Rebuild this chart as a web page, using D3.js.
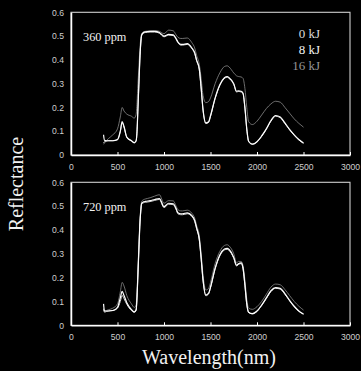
<!DOCTYPE html>
<html>
<head>
<meta charset="utf-8">
<script src="https://cdn.jsdelivr.net/npm/d3@7/dist/d3.min.js"></script>
<style>
  html, body { margin: 0; padding: 0; background: #000; }
  svg { display: block; }
</style>
</head>
<body>
<svg id="chart" width="361" height="371"></svg>
<script>
// Wavelength samples (nm)
const wavelengths = [350,360,380,400,450,500,530,550,570,600,650,680,700,710,720,730,740,750,760,780,800,850,900,950,1000,1050,1100,1130,1150,1180,1200,1250,1300,1330,1350,1380,1400,1420,1450,1480,1500,1550,1600,1650,1680,1700,1750,1780,1800,1830,1850,1870,1890,1910,1950,2000,2050,2100,2150,2200,2250,2300,2350,2400,2450,2500];

// 360 ppm CO2
const ppm360_0kJ = [0.05,0.056,0.058,0.06,0.06,0.064,0.097,0.136,0.117,0.074,0.059,0.051,0.059,0.098,0.197,0.297,0.397,0.467,0.502,0.512,0.515,0.517,0.517,0.512,0.497,0.504,0.502,0.487,0.472,0.462,0.462,0.465,0.447,0.427,0.397,0.357,0.277,0.188,0.132,0.137,0.162,0.237,0.292,0.322,0.327,0.322,0.297,0.265,0.267,0.265,0.257,0.197,0.108,0.056,0.045,0.055,0.078,0.108,0.142,0.163,0.157,0.132,0.106,0.083,0.063,0.049];
const ppm360_8kJ = [0.085,0.062,0.06,0.06,0.06,0.065,0.1,0.14,0.12,0.075,0.06,0.052,0.06,0.1,0.2,0.3,0.4,0.47,0.505,0.515,0.518,0.52,0.52,0.515,0.5,0.507,0.505,0.49,0.475,0.465,0.465,0.468,0.45,0.43,0.4,0.36,0.28,0.19,0.135,0.14,0.165,0.24,0.295,0.325,0.33,0.325,0.3,0.268,0.27,0.268,0.26,0.2,0.11,0.058,0.046,0.056,0.08,0.11,0.145,0.166,0.16,0.135,0.108,0.085,0.065,0.05];
const ppm360_16kJ = [0.045,0.05,0.06,0.068,0.085,0.11,0.16,0.2,0.185,0.172,0.163,0.155,0.17,0.22,0.3,0.37,0.44,0.49,0.51,0.518,0.52,0.522,0.523,0.52,0.51,0.525,0.522,0.505,0.495,0.49,0.49,0.492,0.472,0.45,0.42,0.38,0.32,0.25,0.22,0.225,0.24,0.3,0.345,0.372,0.375,0.37,0.345,0.333,0.33,0.328,0.322,0.28,0.2,0.14,0.128,0.142,0.168,0.195,0.215,0.226,0.222,0.2,0.176,0.152,0.133,0.117];

// 720 ppm CO2
const ppm720_0kJ = [0.07,0.055,0.058,0.06,0.062,0.072,0.1,0.125,0.112,0.088,0.062,0.054,0.062,0.115,0.215,0.315,0.415,0.476,0.508,0.514,0.516,0.519,0.524,0.528,0.494,0.508,0.506,0.486,0.468,0.464,0.464,0.468,0.456,0.436,0.406,0.356,0.276,0.186,0.124,0.132,0.157,0.236,0.291,0.316,0.319,0.314,0.281,0.249,0.255,0.259,0.237,0.167,0.088,0.054,0.048,0.058,0.083,0.112,0.142,0.155,0.152,0.13,0.103,0.078,0.059,0.046];
const ppm720_8kJ = [0.09,0.06,0.06,0.06,0.062,0.075,0.115,0.142,0.125,0.095,0.066,0.056,0.065,0.12,0.22,0.32,0.42,0.48,0.512,0.518,0.52,0.523,0.528,0.532,0.498,0.512,0.51,0.49,0.472,0.468,0.468,0.472,0.46,0.44,0.41,0.36,0.28,0.19,0.127,0.135,0.16,0.24,0.295,0.32,0.323,0.318,0.285,0.252,0.258,0.262,0.24,0.17,0.09,0.055,0.049,0.06,0.085,0.115,0.145,0.158,0.155,0.133,0.105,0.08,0.06,0.047];
const ppm720_16kJ = [0.065,0.06,0.062,0.065,0.072,0.09,0.14,0.18,0.165,0.125,0.09,0.075,0.085,0.14,0.24,0.34,0.43,0.49,0.52,0.527,0.53,0.535,0.542,0.548,0.512,0.523,0.522,0.5,0.485,0.48,0.48,0.483,0.47,0.45,0.42,0.375,0.3,0.21,0.148,0.155,0.18,0.26,0.31,0.335,0.338,0.333,0.3,0.262,0.268,0.268,0.25,0.19,0.11,0.072,0.067,0.078,0.1,0.13,0.16,0.173,0.17,0.15,0.125,0.1,0.08,0.064];

// Axis ticks and labels
const xTicks = [0,500,1000,1500,2000,2500,3000];
const yTicks = [0,0.1,0.2,0.3,0.4,0.5,0.6];
const doseLabels = ["0 kJ","8 kJ","16 kJ"];
const panelLabels = ["360 ppm","720 ppm"];

const doseColors = ["#d4d4d4","#ffffff","#8a8a8a"];
const doseWidths = [1.0,1.2,0.8];
const legendColors = ["#dcdcdc","#f4f4f4","#969696"];

const svg = d3.select("#chart");
svg.append("rect").attr("width",361).attr("height",371).attr("fill","#000");

const x = d3.scaleLinear().domain([0,3000]).range([71,350]);

const panels = [
  {label: panelLabels[0], top: 12.3, bottom: 155, series: [ppm360_16kJ, ppm360_0kJ, ppm360_8kJ], order: [2,0,1], legend: true},
  {label: panelLabels[1], top: 182.3, bottom: 325.3, series: [ppm720_16kJ, ppm720_0kJ, ppm720_8kJ], order: [2,0,1], legend: false}
];

const sans = "'Liberation Sans', Arial, sans-serif";
const serif = "'Liberation Serif', 'Times New Roman', serif";

panels.forEach(p => {
  const y = d3.scaleLinear().domain([0,0.6]).range([p.bottom, p.top]);
  const g = svg.append("g");

  // frame (top and right edges)
  g.append("rect")
    .attr("x", x(0)).attr("y", y(0.6))
    .attr("width", x(3000) - x(0)).attr("height", y(0) - y(0.6))
    .attr("fill", "none").attr("stroke", "#cfcfcf").attr("stroke-width", 1.1);

  // curves
  const line = d3.line()
    .x((d, i) => x(wavelengths[i]))
    .y(d => y(d))
    .curve(d3.curveMonotoneX);
  p.series.forEach((s, k) => {
    const dose = p.order[k];
    g.append("path")
      .datum(s)
      .attr("d", line)
      .attr("fill", "none")
      .attr("stroke", doseColors[dose])
      .attr("stroke-width", doseWidths[dose])
      .attr("stroke-linejoin", "round");
  });

  // x axis
  const xAxis = d3.axisBottom(x).tickValues(xTicks).tickFormat(d3.format("d"))
    .tickSizeInner(-3).tickSizeOuter(0).tickPadding(9);
  const gx = g.append("g").attr("transform", `translate(0,${y(0)})`).call(xAxis);
  gx.select(".domain").attr("stroke", "#fff").attr("stroke-width", 1.5);
  gx.selectAll(".tick line").attr("stroke", "#fff").attr("stroke-width", 1);
  gx.selectAll(".tick text").attr("fill", "#cfcfcf").attr("font-family", sans).attr("font-size", 8.6);

  // y axis
  const yAxis = d3.axisLeft(y).tickValues(yTicks).tickSize(0).tickPadding(7)
    .tickFormat(d => d === 0 ? "0" : d3.format(".1f")(d));
  const gy = g.append("g").attr("transform", `translate(${x(0)},0)`).call(yAxis);
  gy.select(".domain").attr("stroke", "#fff").attr("stroke-width", 1.5);
  gy.selectAll(".tick text").attr("fill", "#cfcfcf").attr("font-family", sans).attr("font-size", 8.6);

  // panel label
  g.append("text")
    .attr("x", 83).attr("y", y(0.5) + 4.5)
    .attr("fill", "#f2f2f2").attr("font-family", serif).attr("font-size", 12.3)
    .text(p.label);

  if (p.legend) {
    doseLabels.forEach((t, i) => {
      g.append("text")
        .attr("x", 320).attr("y", 37.5 + i * 16.3)
        .attr("text-anchor", "end")
        .attr("fill", legendColors[i])
        .attr("font-family", serif).attr("font-size", 13)
        .text(t);
    });
  }
});

// axis titles
svg.append("text")
  .attr("transform", "translate(23,184) rotate(-90)")
  .attr("text-anchor", "middle")
  .attr("fill", "#f2f2f2").attr("font-family", serif).attr("font-size", 20)
  .text("Reflectance");

svg.append("text")
  .attr("x", 209).attr("y", 364)
  .attr("text-anchor", "middle")
  .attr("fill", "#f2f2f2").attr("font-family", serif).attr("font-size", 20)
  .text("Wavelength(nm)");
</script>
</body>
</html>
